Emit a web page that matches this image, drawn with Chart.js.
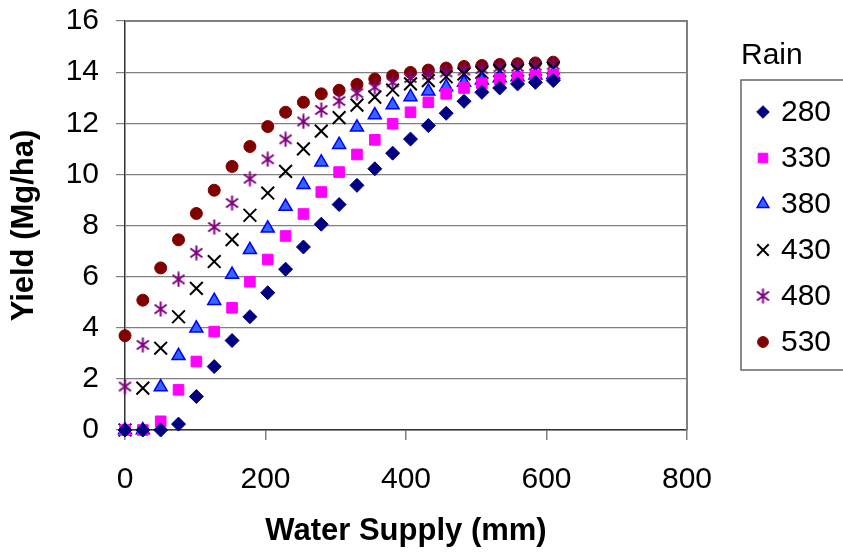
<!DOCTYPE html>
<html lang="en">
<head>
	<meta charset="UTF-8">
	<title>Yield vs water supply</title>
	<style>
		html, body { margin: 0; padding: 0; background: #fff; }
		#wrap { width: 843px; height: 552px; }
	</style>
</head>
<body>
	<div id="wrap"><canvas id="chartYield"></canvas></div>

	<script src="https://cdn.jsdelivr.net/npm/chart.js@4/dist/chart.umd.min.js"></script>
	<script>
		// water supply in mm (1 inch steps)
		const waterSupply = [0, 25.4, 50.8, 76.2, 101.6, 127, 152.4, 177.8, 203.2, 228.6, 254, 279.4, 304.8,
			330.2, 355.6, 381, 406.4, 431.8, 457.2, 482.6, 508, 533.4, 558.8, 584.2, 609.6];

		const rainLabels = ["280", "330", "380", "430", "480", "530"];

		// yield, Mg/ha
		const rain280 = [0, 0, 0, 0.23, 1.31, 2.48, 3.50, 4.43, 5.37, 6.29, 7.16, 8.05, 8.82, 9.57, 10.22,
			10.83, 11.38, 11.91, 12.39, 12.86, 13.21, 13.38, 13.54, 13.60, 13.67];
		const rain330 = [0, 0, 0.34, 1.57, 2.68, 3.85, 4.78, 5.80, 6.67, 7.59, 8.45, 9.31, 10.09, 10.78, 11.35,
			11.98, 12.43, 12.82, 13.15, 13.38, 13.56, 13.73, 13.80, 13.86, 13.90];
		const rain380 = [0, 0, 1.68, 2.90, 3.98, 5.06, 6.08, 7.05, 7.89, 8.74, 9.59, 10.47, 11.16, 11.84, 12.32,
			12.71, 13.03, 13.25, 13.42, 13.59, 13.68, 13.77, 13.81, 13.88, 13.90];
		const rain430 = [0, 1.64, 3.20, 4.43, 5.54, 6.59, 7.45, 8.40, 9.27, 10.12, 11.00, 11.69, 12.22, 12.71,
			13.02, 13.30, 13.54, 13.67, 13.82, 13.93, 13.99, 14.06, 14.08, 14.12, 14.16];
		const rain480 = [1.70, 3.33, 4.73, 5.89, 6.93, 7.94, 8.88, 9.83, 10.59, 11.37, 12.07, 12.52, 12.87, 13.18,
			13.41, 13.60, 13.77, 13.90, 13.99, 14.06, 14.12, 14.19, 14.21, 14.25, 14.29];
		const rain530 = [3.69, 5.08, 6.34, 7.44, 8.47, 9.38, 10.31, 11.09, 11.87, 12.43, 12.82, 13.15, 13.29,
			13.52, 13.73, 13.86, 13.99, 14.08, 14.16, 14.22, 14.26, 14.30, 14.33, 14.36, 14.39];

		const xTicks = [0, 200, 400, 600, 800];
		const yTicks = [0, 2, 4, 6, 8, 10, 12, 14, 16];

		const FONT = "'Liberation Sans', Arial, sans-serif";

		// excel style asterisk: vertical bar + an x
		function asterisk(color) {
			const c = document.createElement("canvas");
			c.width = 15; c.height = 16;
			const ctx = c.getContext("2d");
			ctx.strokeStyle = color;
			ctx.lineWidth = 2;
			ctx.beginPath();
			ctx.moveTo(7.5, 0.5); ctx.lineTo(7.5, 15.5);
			ctx.moveTo(1.5, 3.5); ctx.lineTo(13.5, 12.5);
			ctx.moveTo(1.5, 12.5); ctx.lineTo(13.5, 3.5);
			ctx.stroke();
			return c;
		}

		function pts(ys) {
			return ys.map((y, i) => ({ x: waterSupply[i], y: y }));
		}

		const styles = [
			{ pointStyle: "rectRot", pointRadius: 7, backgroundColor: "#000080", borderColor: "#000080", pointBorderWidth: 1 },
			{ pointStyle: "rect", pointRadius: 7.5, backgroundColor: "#ff00ff", borderColor: "#ff00ff", pointBorderWidth: 1 },
			{ pointStyle: "triangle", pointRadius: 7.5, backgroundColor: "#3366ff", borderColor: "#0000ff", pointBorderWidth: 1.5 },
			{ pointStyle: "crossRot", pointRadius: 9, backgroundColor: "#000000", borderColor: "#000000", pointBorderWidth: 2 },
			{ pointStyle: asterisk("#800080"), pointRadius: 8, backgroundColor: "#800080", borderColor: "#800080", pointBorderWidth: 1 },
			{ pointStyle: "circle", pointRadius: 6, backgroundColor: "#800000", borderColor: "#800000", pointBorderWidth: 1 }
		];
		const series = [rain280, rain330, rain380, rain430, rain480, rain530];

		const datasets = series.map((s, i) => Object.assign({
			label: rainLabels[i],
			data: pts(s),
			showLine: false,
			clip: false,
			pointHoverRadius: styles[i].pointRadius
		}, styles[i]));

		// gray frame on top/right of the plot area and the boxed legend
		const frameAndLegend = {
			id: "frameAndLegend",
			beforeDatasetsDraw(chart) {
				const { ctx, chartArea: a } = chart;
				ctx.save();
				ctx.strokeStyle = "#808080";
				ctx.lineWidth = 2;
				ctx.beginPath();
				ctx.moveTo(a.left, a.top);
				ctx.lineTo(a.right, a.top);
				ctx.lineTo(a.right, a.bottom);
				ctx.stroke();
				ctx.restore();
			},
			afterDraw(chart) {
				const ctx = chart.ctx;
				ctx.save();
				ctx.fillStyle = "#000";
				ctx.font = "30px " + FONT;
				ctx.textBaseline = "alphabetic";
				ctx.textAlign = "left";
				ctx.fillText("Rain", 741, 64);

				ctx.strokeStyle = "#666";
				ctx.lineWidth = 1.5;
				ctx.strokeRect(741, 80, 120, 290);

				chart.data.datasets.forEach((ds, i) => {
					const y = 112 + i * 46;
					ctx.fillStyle = ds.backgroundColor;
					ctx.strokeStyle = ds.borderColor;
					ctx.lineWidth = ds.pointBorderWidth;
					const r = typeof ds.pointStyle === "string" ? ds.pointRadius * 0.9 : ds.pointRadius;
					Chart.helpers.drawPoint(ctx, { pointStyle: ds.pointStyle, radius: r, rotation: 0, borderWidth: ds.pointBorderWidth }, 763, y);
					ctx.fillStyle = "#000";
					ctx.textBaseline = "middle";
					ctx.fillText(ds.label, 781, y + 1);
				});
				ctx.restore();
			}
		};

		new Chart("chartYield", {
			type: "scatter",
			data: { datasets: datasets },
			options: {
				responsive: true,
				maintainAspectRatio: false,
				animation: false,
				events: [],
				layout: { padding: { left: 0, right: 156, top: 21, bottom: 0 } },
				plugins: {
					legend: { display: false },
					tooltip: { enabled: false }
				},
				scales: {
					x: {
						type: "linear",
						min: 0,
						max: 800,
						afterBuildTicks: (scale) => { scale.ticks = xTicks.map(v => ({ value: v })); },
						afterFit: (scale) => { scale.height = 122; scale.paddingLeft = 0; scale.paddingRight = 0; },
						grid: { drawOnChartArea: false, drawTicks: true, tickLength: 10, color: "#808080", lineWidth: 1.5 },
						border: { color: "#333333", width: 1.5 },
						ticks: { color: "#000", padding: 22, font: { family: FONT, size: 30 }, maxRotation: 0 },
						title: {
							display: true,
							text: "Water Supply (mm)",
							color: "#000",
							font: { family: FONT, size: 31, weight: "bold" },
							padding: { top: 0, bottom: 2 }
						}
					},
					y: {
						min: 0,
						max: 16,
						afterBuildTicks: (scale) => { scale.ticks = yTicks.map(v => ({ value: v })); },
						afterFit: (scale) => { scale.width = 125; scale.paddingTop = 0; scale.paddingBottom = 0; },
						grid: { color: "#808080", lineWidth: 1.2, tickLength: 9, drawTicks: true },
						border: { color: "#333333", width: 1.5 },
						ticks: { color: "#000", padding: 17, font: { family: FONT, size: 30 } },
						title: {
							display: true,
							text: "Yield (Mg/ha)",
							color: "#000",
							font: { family: FONT, size: 31, weight: "bold" },
							padding: { top: 6, bottom: 0 }
						}
					}
				}
			},
			plugins: [frameAndLegend]
		});
	</script>
</body>
</html>
